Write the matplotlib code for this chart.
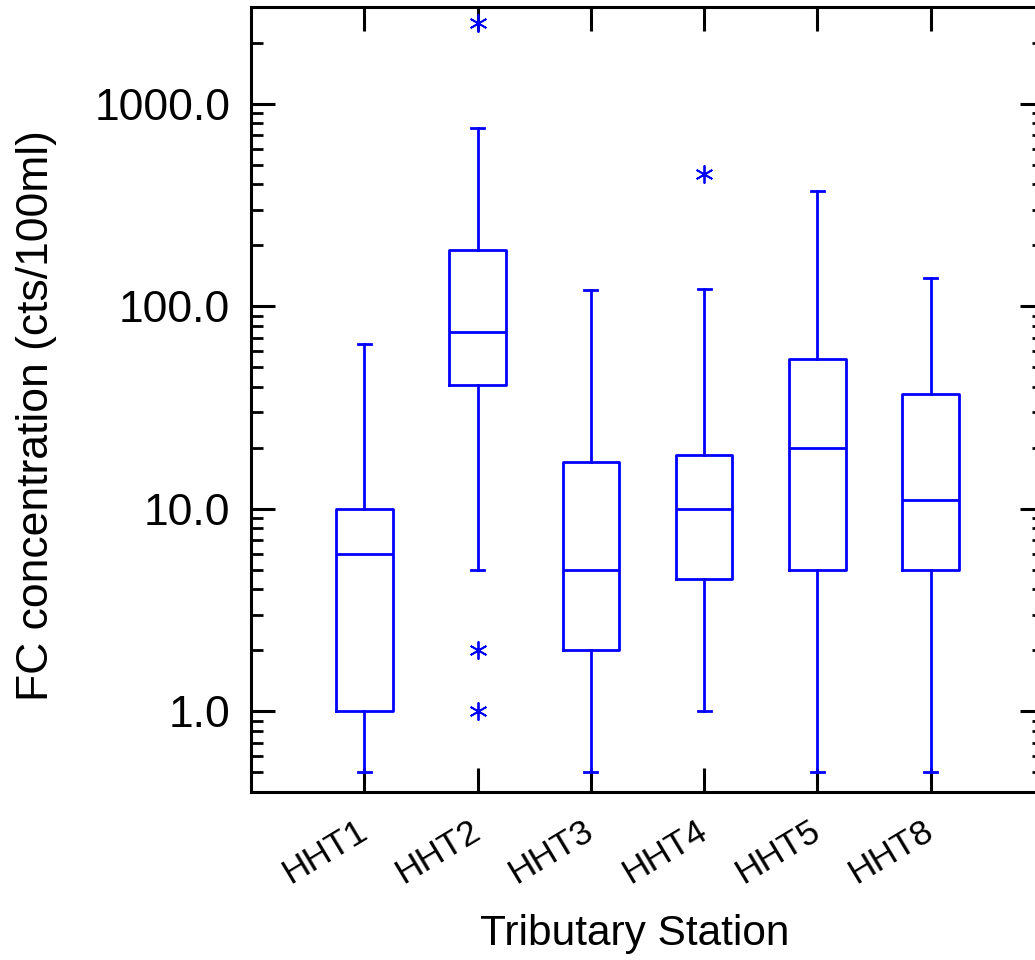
import matplotlib
matplotlib.use("Agg")
import matplotlib.pyplot as plt
from matplotlib.ticker import LogLocator, FuncFormatter, NullFormatter, FixedLocator

plt.rcParams['font.family'] = ['Liberation Sans', 'DejaVu Sans']

stations = ["HHT1", "HHT2", "HHT3", "HHT4", "HHT5", "HHT8"]
whisker_low = [0.5, 5.0, 0.5, 1.0, 0.5, 0.5]
q1 = [1.0, 41.0, 2.0, 4.5, 5.0, 5.0]
median = [6.0, 75.0, 5.0, 10.0, 20.0, 11.0]
q3 = [10.0, 190.0, 17.0, 18.5, 55.0, 37.0]
whisker_high = [65.0, 760.0, 120.0, 122.0, 370.0, 138.0]
outliers = [[], [2500.0, 2.0, 1.0], [], [450.0], [], []]

stats = []
for i, name in enumerate(stations):
    stats.append(dict(label=name, whislo=whisker_low[i], q1=q1[i], med=median[i],
                      q3=q3[i], whishi=whisker_high[i], fliers=outliers[i]))

fig = plt.figure(figsize=(10.35, 9.6), dpi=100)
ax = fig.add_axes([251 / 1035, 168 / 960, 793 / 1035, 785 / 960])

blue = '#0000ff'
lw = 2.0
positions = list(range(1, len(stations) + 1))
ax.bxp(stats, positions=positions, widths=0.5, capwidths=0.115,
       boxprops=dict(color=blue, linewidth=lw),
       whiskerprops=dict(color=blue, linewidth=lw),
       capprops=dict(color=blue, linewidth=lw),
       medianprops=dict(color=blue, linewidth=lw),
       flierprops=dict(marker=(6, 2, 0), markeredgecolor=blue, markerfacecolor=blue,
                       markersize=13, markeredgewidth=1.3, linestyle='none'))

ax.set_yscale('log')
ax.set_ylim(0.4, 3000)
ax.set_xlim(0, 7)

ax.yaxis.set_major_locator(FixedLocator([1, 10, 100, 1000]))
ax.yaxis.set_major_formatter(FuncFormatter(lambda v, p: "%.1f" % v))
ax.yaxis.set_minor_locator(LogLocator(base=10, subs=range(2, 10)))
ax.yaxis.set_minor_formatter(NullFormatter())

ax.set_xticks(positions)
ax.set_xticklabels(stations, rotation=31, ha='right', va='center',
                   rotation_mode='anchor', fontsize=25.5)

for s in ax.spines.values():
    s.set_linewidth(2.2)

ax.tick_params(axis='both', which='major', direction='in', length=17, width=2.2,
               top=True, right=True, colors='black')
ax.tick_params(axis='y', which='major', labelsize=32, pad=15)
ax.tick_params(axis='x', which='major', pad=26)
ax.tick_params(axis='y', which='minor', direction='in', length=8.5, width=2.0,
               left=True, right=True)

ax.set_xlabel("Tributary Station", fontsize=30.5)
ax.xaxis.set_label_coords(0.484, -0.155)
ax.set_ylabel("FC concentration (cts/100ml)", fontsize=32)
ax.yaxis.set_label_coords(-0.245, 0.48)

fig.savefig("out.png", dpi=100)
